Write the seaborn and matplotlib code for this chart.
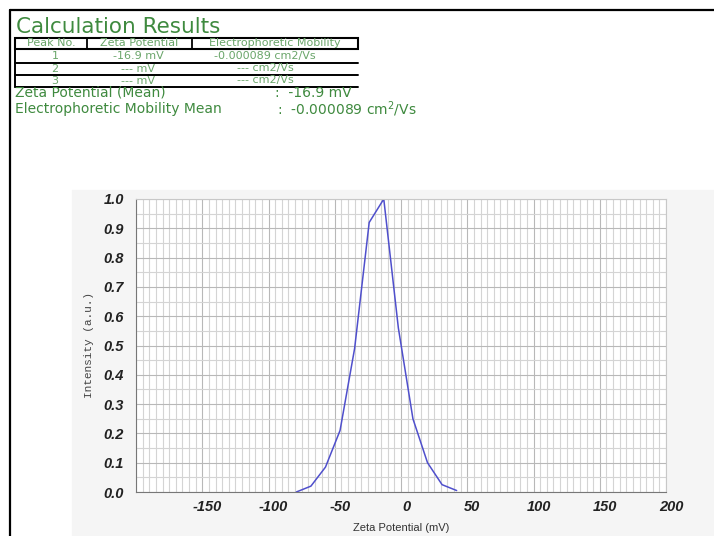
import numpy as np
import pandas as pd
import matplotlib
matplotlib.use("Agg")
import matplotlib.pyplot as plt
from matplotlib.ticker import MultipleLocator
from matplotlib.lines import Line2D
from matplotlib.patches import Rectangle
from matplotlib.transforms import ScaledTranslation
import seaborn as sns

# data
zeta_mv = [-79, -68, -57, -46, -35, -24, -13, -2, 9, 20, 31, 42]
intensity = [0.0, 0.02, 0.085, 0.21, 0.49, 0.92, 1.0, 0.56, 0.25, 0.10, 0.025, 0.005]

peak_no = ["1", "2", "3"]
peak_zeta = ["-16.9 mV", "--- mV", "--- mV"]
peak_mob = ["-0.000089 cm2/Vs", "--- cm2/Vs", "--- cm2/Vs"]
table_head = ["Peak No.", "Zeta Potential", "Electrophoretic Mobility"]

df = pd.DataFrame({"zeta": zeta_mv, "intensity": intensity})

sns.set_style("white")
plt.rcParams["font.family"] = ["Liberation Sans", "DejaVu Sans"]

W, H = 714, 536
fig = plt.figure(figsize=(W / 100, H / 100), dpi=100)

def fx(px):
    return px / W

def fy(py):
    return 1 - py / H

green = "#3f8a3f"
pale = "#6aa56a"
wide = ["DejaVu Sans"]

# outer frame (top and left)
fig.add_artist(Line2D([fx(10), 1], [fy(10), fy(10)], color="black", lw=1.6))
fig.add_artist(Line2D([fx(10), fx(10)], [fy(10), 0], color="black", lw=1.6))

# light grey panel behind the chart
fig.add_artist(Rectangle((fx(72), 0), 1 - fx(72), fy(190), color="#f5f5f5", zorder=0))

fig.text(fx(16), fy(27), "Calculation Results", color=green, fontsize=15.5,
         va="center", family=wide)

# results table
tl, tr = 15, 358
cols = [15, 87, 192, 358]
fig.add_artist(Rectangle((fx(tl), fy(49)), fx(tr - tl), fy(38) - fy(49), fill=False, ec="black", lw=1.5))
for c in cols[1:3]:
    fig.add_artist(Line2D([fx(c), fx(c)], [fy(38), fy(49)], color="black", lw=1.3))
centers = [(cols[i] + cols[i + 1]) / 2 for i in range(3)]
for c, h in zip(centers, table_head):
    fig.text(fx(c), fy(43.5), h, color=pale, fontsize=8, ha="center", va="center", family=wide)
row_y = [56, 68.5, 80.5]
row_x = [55, 138, 265]
for i, ry in enumerate(row_y):
    fig.add_artist(Line2D([fx(tl), fx(tr)], [fy(ry + 6.5), fy(ry + 6.5)], color="black", lw=1.4))
    fig.text(fx(row_x[0]), fy(ry), peak_no[i], color=pale, fontsize=8, ha="center", va="center", family=wide)
    fig.text(fx(row_x[1]), fy(ry), peak_zeta[i], color=pale, fontsize=8, ha="center", va="center", family=wide)
    fig.text(fx(row_x[2]), fy(ry), peak_mob[i], color=pale, fontsize=8, ha="center", va="center", family=wide)
fig.add_artist(Line2D([fx(tl), fx(tl)], [fy(49), fy(87)], color="black", lw=1.4))

fig.text(fx(15), fy(93), "Zeta Potential (Mean)", color=green, fontsize=10, va="center", family=wide)
fig.text(fx(275), fy(93), ":  -16.9 mV", color=green, fontsize=10, va="center", family=wide)
fig.text(fx(15), fy(109), "Electrophoretic Mobility Mean", color=green, fontsize=10, va="center", family=wide)
fig.text(fx(277), fy(109.5), ":  -0.000089 cm$^{2}$/Vs", color=green, fontsize=10, va="center", family=wide)

# chart
ax = fig.add_axes([fx(136), fy(492), fx(666) - fx(136), fy(199) - fy(492)])
ax.set_facecolor("white")
sns.lineplot(data=df, x="zeta", y="intensity", ax=ax, color="#4f4fcc", lw=1.1)
ax.set_xlim(-200, 200)
ax.set_ylim(0, 1.0)
ax.xaxis.set_major_locator(MultipleLocator(50))
ax.xaxis.set_minor_locator(MultipleLocator(5))
ax.yaxis.set_major_locator(MultipleLocator(0.1))
ax.yaxis.set_minor_locator(MultipleLocator(0.05))
ax.grid(which="major", color="#b8b8b8", lw=0.8)
ax.grid(which="minor", color="#d4d4d4", lw=0.8)
ax.set_axisbelow(True)
for s in ["top", "right"]:
    ax.spines[s].set_color("#c8c8c8")
for s in ["left", "bottom"]:
    ax.spines[s].set_color("#777777")
    ax.spines[s].set_linewidth(0.8)

xt = [-150, -100, -50, 0, 50, 100, 150, 200]
ax.set_xticks(xt)
ax.set_xticklabels([str(v) for v in xt])
yt = np.round(np.arange(0, 1.01, 0.1), 1)
ax.set_yticks(yt)
ax.set_yticklabels([f"{v:.1f}" for v in yt])
ax.tick_params(axis="both", which="major", length=5, width=0.8, color="#555555")
ax.tick_params(axis="both", which="minor", length=3, width=0.8, color="#777777")
ax.tick_params(axis="x", which="both", direction="inout")
ax.tick_params(axis="y", which="both", direction="out")
shift = ScaledTranslation(5 / 100, 0, fig.dpi_scale_trans)
for lab in ax.get_xticklabels():
    lab.set_transform(lab.get_transform() + shift)
for lab in ax.get_xticklabels() + ax.get_yticklabels():
    lab.set_fontweight("bold")
    lab.set_fontstyle("italic")
    lab.set_fontsize(10.5)
    lab.set_color("#222222")

ax.set_xlabel("Zeta Potential (mV)", fontsize=8, color="#333333", labelpad=6)
ax.set_ylabel("Intensity (a.u.)", fontsize=8, color="#444444",
              family=["Liberation Mono", "DejaVu Sans Mono"], labelpad=7)

fig.savefig("out.png", dpi=100)
